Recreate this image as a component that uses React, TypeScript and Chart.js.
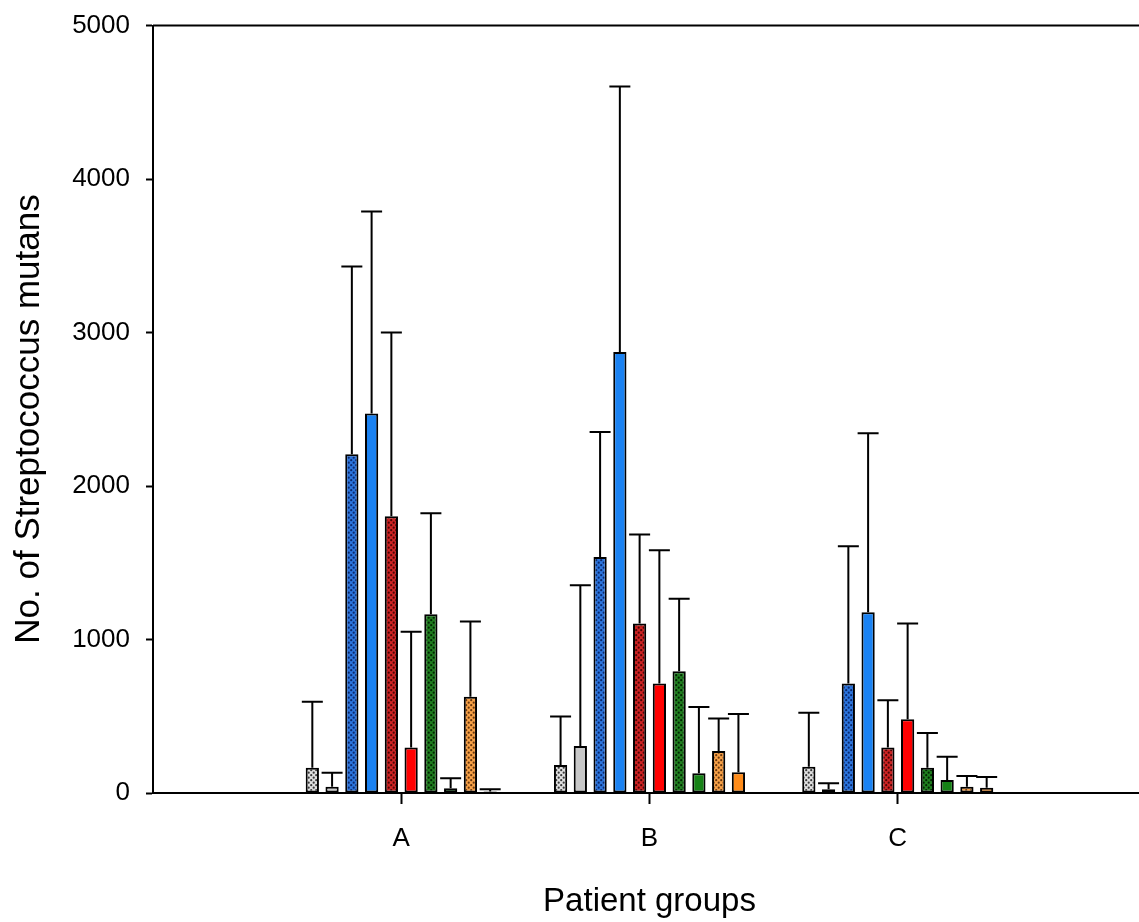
import React, { useEffect, useRef } from "react";
import { Chart, registerables } from "chart.js";

Chart.register(...registerables);

const groups = ["A", "B", "C"];
const seriesNames = [
  "Gray dotted", "Gray", "Blue dotted", "Blue", "Dark red dotted",
  "Red", "Green dotted", "Green", "Orange dotted", "Orange",
];
const grayDotted = [165, 182, 171];
const graySolid = [41, 306, 24];
const blueDotted = [2207, 1538, 714];
const blueSolid = [2472, 2873, 1178];
const redDotted = [1803, 1105, 297];
const redSolid = [297, 714, 480];
const greenDotted = [1165, 794, 165];
const greenSolid = [31, 128, 85];
const orangeDotted = [627, 273, 41];
const orangeSolid = [10, 135, 35];

const grayDottedSD = [430, 317, 352];
const graySolidSD = [91, 1048, 39];
const blueDottedSD = [1224, 814, 894];
const blueSolidSD = [1317, 1730, 1166];
const redDottedSD = [1197, 579, 308];
const redSolidSD = [753, 868, 625];
const greenDottedSD = [658, 471, 226];
const greenSolidSD = [65, 432, 151];
const orangeDottedSD = [491, 213, 70];
const orangeSolidSD = [15, 379, 69];

const yTicks = [0, 1000, 2000, 3000, 4000, 5000];

const means = [grayDotted, graySolid, blueDotted, blueSolid, redDotted, redSolid, greenDotted, greenSolid, orangeDotted, orangeSolid];
const sds = [grayDottedSD, graySolidSD, blueDottedSD, blueSolidSD, redDottedSD, redSolidSD, greenDottedSD, greenSolidSD, orangeDottedSD, orangeSolidSD];

const FONT = "'Liberation Sans', Arial, sans-serif";

function dotPattern(bg: string, dot: string): CanvasPattern | string {
  const c = document.createElement("canvas");
  c.width = 5;
  c.height = 5;
  const g = c.getContext("2d");
  if (!g) return bg;
  g.fillStyle = bg;
  g.fillRect(0, 0, 5, 5);
  g.fillStyle = dot;
  const pts = [[1.2, 1.2], [3.7, 3.7]];
  for (const [x, y] of pts) {
    g.beginPath();
    g.arc(x, y, 1.1, 0, Math.PI * 2);
    g.fill();
  }
  const p = g.createPattern(c, "repeat");
  return p || bg;
}

const errorBarPlugin = {
  id: "errorBars",
  afterDatasetsDraw(chart: any) {
    const ctx = chart.ctx;
    const yScale = chart.scales.y;
    ctx.save();
    ctx.strokeStyle = "#000";
    ctx.lineWidth = 2;
    chart.data.datasets.forEach((ds: any, i: number) => {
      const meta = chart.getDatasetMeta(i);
      const sd = sds[i];
      ds.data.forEach((v: number | null, j: number) => {
        if (v === null || v === undefined) return;
        const bar = meta.data[j];
        if (!bar) return;
        const x = bar.x;
        const yTop = yScale.getPixelForValue(v + sd[j - 1]);
        const yBar = bar.y;
        ctx.beginPath();
        ctx.moveTo(x, yBar);
        ctx.lineTo(x, yTop);
        ctx.moveTo(x - 10.5, yTop);
        ctx.lineTo(x + 10.5, yTop);
        ctx.stroke();
      });
    });
    const a = chart.chartArea;
    ctx.beginPath();
    ctx.moveTo(a.left, a.top);
    ctx.lineTo(a.right + 20, a.top);
    ctx.stroke();
    ctx.restore();
  },
};

export default function App() {
  const ref = useRef<HTMLCanvasElement>(null);
  useEffect(() => {
    if (!ref.current) return;
    const fills = [
      dotPattern("#dedede", "#3a3a3a"),
      "#c8c8c8",
      dotPattern("#2b74dc", "#0b2a6e"),
      "#1a82f2",
      dotPattern("#cc2222", "#4a0606"),
      "#ff0000",
      dotPattern("#1f7d1f", "#032603"),
      "#168216",
      dotPattern("#f6a047", "#6a3a10"),
      "#ff8c1a",
    ];
    const chart = new Chart(ref.current, {
      type: "bar",
      data: {
        labels: ["", ...groups, ""],
        datasets: means.map((m, i) => ({
          label: seriesNames[i],
          data: [null, ...m, null],
          backgroundColor: fills[i] as any,
          borderColor: "#000",
          borderWidth: 2,
          borderSkipped: false,
          categoryPercentage: 0.796,
          barPercentage: 0.67,
        })),
      },
      options: {
        responsive: false,
        animation: false,
        devicePixelRatio: 1,
        layout: { padding: { left: 0, right: 3, top: 25, bottom: 0 } },
        plugins: { legend: { display: false }, tooltip: { enabled: false } },
        scales: {
          x: {
            offset: false,
            afterFit: (s: any) => { s.height = 129; },
            grid: {
              offset: false,
              drawOnChartArea: false,
              drawTicks: true,
              tickLength: 11,
              tickWidth: 2,
              tickColor: (c: any) => (c.index === 0 || c.index === 4 ? "rgba(0,0,0,0)" : "#000"),
            },
            border: { display: true, color: "#000", width: 2 },
            ticks: {
              color: "#000",
              padding: 19,
              maxRotation: 0,
              autoSkip: false,
              font: { family: FONT, size: 26 },
            },
            title: {
              display: true,
              text: "Patient groups",
              color: "#000",
              padding: { top: 0, bottom: 0 },
              font: { family: FONT, size: 33 },
            },
          },
          y: {
            min: 0,
            max: 5000,
            afterFit: (s: any) => { s.width = 153; },
            afterBuildTicks: (s: any) => { s.ticks = yTicks.map((v) => ({ value: v })); },
            grid: {
              drawOnChartArea: false,
              drawTicks: true,
              tickLength: 7,
              tickWidth: 2,
              tickColor: "#000",
            },
            border: { display: true, color: "#000", width: 2 },
            ticks: {
              color: "#000",
              padding: 16,
              callback: (v: any) => String(v),
              font: { family: FONT, size: 26 },
            },
            title: {
              display: true,
              text: "No. of Streptococcus mutans  ",
              color: "#000",
              padding: { top: 8, bottom: 0 },
              font: { family: FONT, size: 35 },
            },
          },
        },
      },
      plugins: [errorBarPlugin],
    });
    return () => chart.destroy();
  }, []);
  return (
    <div style={{ position: "fixed", left: 0, top: 0, width: 1139, height: 922, overflow: "hidden", background: "#fff" }}>
      <canvas ref={ref} width={1165} height={928} style={{ display: "block", position: "absolute", left: 0, top: -6 }} />
    </div>
  );
}
